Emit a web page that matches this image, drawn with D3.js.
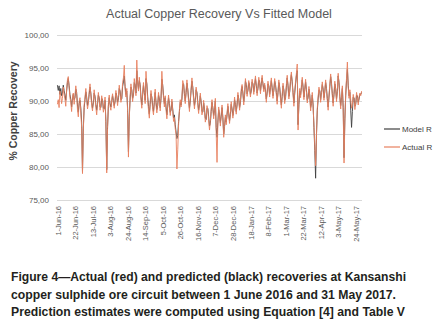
<!DOCTYPE html>
<html lang="en">
<head>
  <meta charset="UTF-8">
  <title>Actual Copper Recovery Vs Fitted Model</title>
  <script src="https://d3js.org/d3.v7.min.js"></script>
  <style>
    body { margin: 0; background: #fff; }
    text { font-family: "Liberation Sans", Arial, sans-serif; }
  </style>
</head>
<body>
<div id="chart"></div>
<script>

// daily actual recovery, 1 Jun 2016 .. 31 May 2017
const actual = [
  89.5, 90.2, 89.0, 91.5, 90.8, 89.6, 90.4, 92.1, 91.0, 90.3,
  89.2, 91.8, 93.2, 93.7, 92.0, 90.5, 89.8, 88.4, 90.6, 91.2,
  89.5, 90.8, 92.3, 91.0, 88.7, 87.6, 89.9, 90.5, 88.2, 86.0,
  79.0, 85.5, 89.4, 90.6, 91.9, 90.2, 88.8, 89.6, 91.4, 92.6,
  90.9, 89.3, 88.5, 90.1, 91.7, 90.4, 89.0, 87.9, 89.8, 91.3,
  90.2, 88.6, 89.4, 90.8, 89.9, 88.3, 89.1, 90.6, 86.5, 79.1,
  85.8, 89.6, 90.9, 89.2, 88.6, 90.3, 91.1, 89.7, 88.9, 90.2,
  91.6, 90.4, 89.3, 90.7, 92.4, 91.2, 89.8, 90.6, 92.8, 93.5,
  95.4, 91.8, 90.6, 91.9, 88.4, 81.5, 87.2, 90.8, 92.6, 91.4,
  89.9, 91.2, 93.4, 92.1, 90.8, 96.2, 92.7, 91.5, 93.6, 92.2,
  90.1, 88.9, 91.4, 92.8, 91.0, 89.6, 94.5, 92.3, 90.2, 88.6,
  87.4, 89.8, 91.6, 90.3, 88.7, 87.9, 90.2, 91.8, 89.4, 88.2,
  89.6, 91.3, 90.0, 88.5, 90.7, 94.5, 92.1, 90.4, 89.1, 90.8,
  88.6, 87.3, 89.5, 90.9, 89.2, 87.8, 88.9, 90.3, 88.4, 86.9,
  87.5, 85.8, 84.9, 79.7, 82.6, 86.4, 88.7, 90.2, 89.1, 90.6,
  93.1, 92.4, 90.8, 89.6, 91.7, 93.2, 91.5, 89.9, 88.4, 90.3,
  92.0, 93.5, 91.8, 90.2, 88.8, 90.4, 92.1, 91.0, 89.3, 88.1,
  89.7, 91.2, 89.5, 87.9, 88.6, 90.1, 88.4, 86.8, 87.5, 89.3,
  88.6, 87.0, 85.6, 86.9, 88.8, 90.2, 88.7, 87.3, 88.9, 90.4,
  85.2, 80.7, 86.5, 89.1, 87.6, 86.2, 88.0, 89.4, 87.1, 84.5,
  86.3, 87.9, 86.4, 88.2, 89.6, 87.8, 86.6, 88.3, 89.9, 88.5,
  87.4, 88.9, 90.6, 89.2, 88.0, 89.7, 91.3, 90.1, 88.6, 90.0,
  91.8, 92.5, 90.9, 89.4, 91.2, 93.4, 92.2, 90.7, 91.9, 93.1,
  92.0, 90.6, 91.8, 93.3, 92.4, 91.0, 92.6, 93.8, 92.1, 90.8,
  92.2, 93.6, 92.5, 91.1, 92.9, 93.9, 92.3, 91.4, 92.7, 91.2,
  89.8, 91.5, 93.0, 92.0, 90.6, 92.3, 93.5, 91.7, 90.4, 91.9,
  93.4, 92.2, 90.9, 89.5, 91.6, 93.2, 91.8, 90.2, 88.9, 91.0,
  92.7, 91.4, 89.6, 90.8, 92.5, 93.9, 92.0, 90.3, 91.7, 93.4,
  94.4, 92.6, 90.9, 89.2, 91.5, 93.0, 94.2, 95.6, 85.6, 89.8,
  91.9, 90.5, 92.4, 93.6, 91.8, 90.2, 92.0, 93.3, 91.4, 89.7,
  90.8, 92.2, 90.6, 88.5, 89.9, 91.3, 89.0, 86.4, 83.2, 80.2,
  84.7, 88.9, 90.7, 92.1, 91.3, 89.8, 91.6, 92.9, 91.5, 90.1,
  91.8, 93.2, 91.6, 90.0, 88.6, 90.9, 92.6, 94.1, 92.4, 90.7,
  89.2, 91.4, 93.0, 91.6, 89.9, 91.7, 94.2, 92.5, 90.3, 88.8,
  90.9, 92.3, 88.6, 80.6, 86.9, 91.2, 93.5, 95.9, 92.1, 90.4,
  91.7, 90.2, 88.9, 89.6, 91.0, 90.2, 88.7, 89.8, 91.3, 90.5,
  89.4, 90.6, 91.2, 90.8, 91.5
];

// daily fitted model recovery
const model = [
  92.4, 91.6, 92.3, 91.0, 91.9, 90.8, 91.2, 92.4, 91.6, 90.9,
  90.1, 91.5, 92.8, 93.4, 92.3, 91.0, 90.2, 89.1, 90.3, 91.0,
  90.2, 90.5, 91.8, 91.3, 89.4, 88.3, 89.6, 90.1, 88.9, 86.8,
  79.3, 85.9, 89.0, 90.2, 91.4, 90.6, 89.3, 89.9, 91.0, 92.1,
  91.2, 89.8, 88.9, 89.7, 91.2, 90.7, 89.5, 88.6, 89.5, 90.9,
  90.5, 89.1, 89.0, 90.4, 90.2, 88.9, 88.8, 90.1, 86.9, 79.6,
  86.1, 89.2, 90.5, 89.6, 89.1, 89.9, 90.8, 90.1, 89.3, 89.9,
  91.2, 90.8, 89.8, 90.3, 91.9, 91.5, 90.2, 90.3, 92.2, 92.9,
  93.8, 92.2, 91.0, 91.5, 88.9, 82.3, 87.6, 90.3, 92.1, 91.7,
  90.4, 90.9, 92.8, 92.4, 91.2, 94.6, 92.9, 91.8, 93.1, 92.5,
  90.6, 89.4, 91.0, 92.4, 91.3, 90.1, 93.4, 92.6, 90.7, 89.2,
  88.0, 89.5, 91.1, 90.6, 89.2, 88.4, 89.8, 91.3, 89.8, 88.7,
  89.3, 90.9, 90.3, 89.0, 90.4, 93.3, 92.4, 90.8, 89.6, 90.5,
  89.1, 87.9, 89.2, 90.5, 89.6, 88.3, 88.6, 89.9, 88.8, 87.4,
  87.9, 86.4, 85.3, 84.3, 84.8, 86.9, 88.4, 89.8, 89.4, 90.3,
  92.5, 92.6, 91.1, 90.0, 91.3, 92.7, 91.8, 90.3, 88.9, 90.0,
  91.6, 93.0, 92.1, 90.6, 89.3, 90.1, 91.7, 91.3, 89.8, 88.6,
  89.4, 90.8, 89.9, 88.4, 88.3, 89.7, 88.8, 87.4, 87.2, 88.9,
  88.9, 87.6, 86.2, 86.6, 88.4, 89.8, 89.0, 87.8, 88.6, 90.0,
  86.0, 84.5, 86.8, 88.7, 87.9, 86.7, 87.7, 89.0, 87.5, 85.0,
  86.1, 87.5, 86.8, 87.9, 89.2, 88.1, 87.0, 88.0, 89.5, 88.8,
  87.8, 88.6, 90.2, 89.5, 88.4, 89.4, 90.9, 90.4, 89.0, 89.7,
  91.4, 92.2, 91.2, 89.9, 90.9, 93.0, 92.5, 91.1, 91.6, 92.8,
  92.3, 91.0, 91.5, 92.9, 92.6, 91.4, 92.3, 93.4, 92.4, 91.2,
  91.9, 93.2, 92.8, 91.5, 92.6, 93.5, 92.6, 91.8, 92.4, 91.5,
  90.3, 91.2, 92.6, 92.3, 91.0, 92.0, 93.1, 92.0, 90.8, 91.6,
  93.0, 92.5, 91.3, 90.0, 91.3, 92.8, 92.1, 90.6, 89.4, 90.7,
  92.3, 91.7, 90.1, 90.5, 92.1, 93.5, 92.3, 90.7, 91.4, 93.0,
  94.0, 92.9, 91.3, 89.7, 91.2, 92.6, 93.8, 94.6, 86.4, 89.5,
  91.5, 90.9, 92.0, 93.2, 92.1, 90.6, 91.7, 92.9, 91.7, 90.1,
  90.5, 91.8, 90.9, 89.0, 89.6, 90.9, 89.4, 86.0, 82.5, 78.3,
  84.9, 88.5, 90.3, 91.7, 91.6, 90.2, 91.3, 92.5, 91.8, 90.5,
  91.4, 92.8, 91.9, 90.4, 89.1, 90.6, 92.2, 93.7, 92.7, 91.1,
  89.7, 91.0, 92.6, 91.9, 90.3, 91.4, 93.8, 92.8, 90.7, 89.3,
  90.5, 91.9, 89.0, 81.4, 87.3, 90.8, 93.1, 94.8, 92.4, 90.8,
  91.3, 88.6, 86.0, 88.4, 90.6, 90.5, 89.2, 89.5, 90.9, 90.8,
  89.8, 90.3, 91.0, 91.0, 91.3
];

const yTicks = [75, 80, 85, 90, 95, 100];
const xTickLabels = ["1-Jun-16", "22-Jun-16", "13-Jul-16", "3-Aug-16", "24-Aug-16",
  "14-Sep-16", "5-Oct-16", "26-Oct-16", "16-Nov-16", "7-Dec-16", "28-Dec-16",
  "18-Jan-17", "8-Feb-17", "1-Mar-17", "22-Mar-17", "12-Apr-17", "3-May-17", "24-May-17"];
const seriesNames = ["Model R", "Actual R"];
const colors = ["#404040", "#e8805f"];

const W = 445, H = 326;
const plotL = 57, plotR = 362, plotT = 35, plotB = 200;

const svg = d3.select("#chart").append("svg")
  .attr("width", W)
  .attr("height", H);

const fmt = d3.timeFormat("%-d-%b-%y");
const days = d3.timeDay.range(new Date(2016, 5, 1), new Date(2017, 5, 1)).map(fmt);

const x = d3.scalePoint()
  .domain(days)
  .range([plotL, plotR])
  .padding(0.5);

const y = d3.scaleLinear()
  .domain([75, 100])
  .range([plotB, plotT]);

// title
svg.append("text")
  .attr("x", 219).attr("y", 18)
  .attr("text-anchor", "middle")
  .attr("font-size", 12.5)
  .attr("fill", "#595959")
  .text("Actual Copper Recovery Vs Fitted Model");

// gridlines + y labels
const yAxis = d3.axisLeft(y)
  .tickValues(yTicks)
  .tickSize(-(plotR - plotL))
  .tickPadding(8)
  .tickFormat(d => d3.format(".2f")(d).replace(".", ","));

svg.append("g")
  .attr("transform", `translate(${plotL},0)`)
  .call(yAxis)
  .call(g => g.select(".domain").remove())
  .call(g => g.selectAll("line").attr("stroke", "#d9d9d9"))
  .call(g => g.selectAll("text")
    .attr("font-size", 8)
    .attr("fill", "#595959")
    .attr("font-family", "Liberation Sans, Arial, sans-serif"));

// x labels
const xAxis = d3.axisBottom(x)
  .tickValues(xTickLabels)
  .tickSize(0)
  .tickPadding(0);

const xg = svg.append("g")
  .attr("transform", `translate(0,${plotB})`)
  .call(xAxis);
xg.select(".domain").remove();
xg.selectAll("text")
  .attr("font-size", 7.5)
  .attr("fill", "#595959")
  .attr("font-family", "Liberation Sans, Arial, sans-serif")
  .attr("transform", "rotate(-90)")
  .attr("text-anchor", "end")
  .attr("x", -6)
  .attr("y", 0)
  .attr("dy", "0.35em");

// y axis title
svg.append("text")
  .attr("transform", "translate(17,111) rotate(-90)")
  .attr("text-anchor", "middle")
  .attr("font-size", 10.5)
  .attr("font-weight", "bold")
  .attr("fill", "#404040")
  .text("% Copper Recovery");

// lines
const line = d3.line()
  .x((d, i) => x(days[i]))
  .y(d => y(d));

[model, actual].forEach((s, k) => {
  svg.append("path")
    .datum(s)
    .attr("fill", "none")
    .attr("stroke", colors[k])
    .attr("stroke-width", 0.9)
    .attr("stroke-linejoin", "round")
    .attr("d", line);
});

// legend (clipped at right edge like the original)
seriesNames.forEach((name, k) => {
  const ly = 129 + k * 18;
  svg.append("line")
    .attr("x1", 384).attr("x2", 400)
    .attr("y1", ly).attr("y2", ly)
    .attr("stroke", colors[k])
    .attr("stroke-width", 1.2);
  svg.append("text")
    .attr("x", 402).attr("y", ly)
    .attr("dy", "0.35em")
    .attr("font-size", 8)
    .attr("fill", "#404040")
    .text(name);
});

// caption
const caption = [
  "Figure 4\u2014Actual (red) and predicted (black) recoveries at Kansanshi",
  "copper sulphide ore circuit between 1 June 2016 and 31 May 2017.",
  "Prediction estimates were computed using Equation [4] and Table V"
];
const capWidths = [395, 385, 394];
caption.forEach((t, i) => {
  svg.append("text")
    .attr("x", 11)
    .attr("y", 281 + i * 17.5)
    .attr("font-size", 12.5)
    .attr("font-weight", "bold")
    .attr("fill", "#231f20")
    .attr("textLength", capWidths[i])
    .attr("lengthAdjust", "spacingAndGlyphs")
    .text(t);
});

</script>
</body>
</html>
